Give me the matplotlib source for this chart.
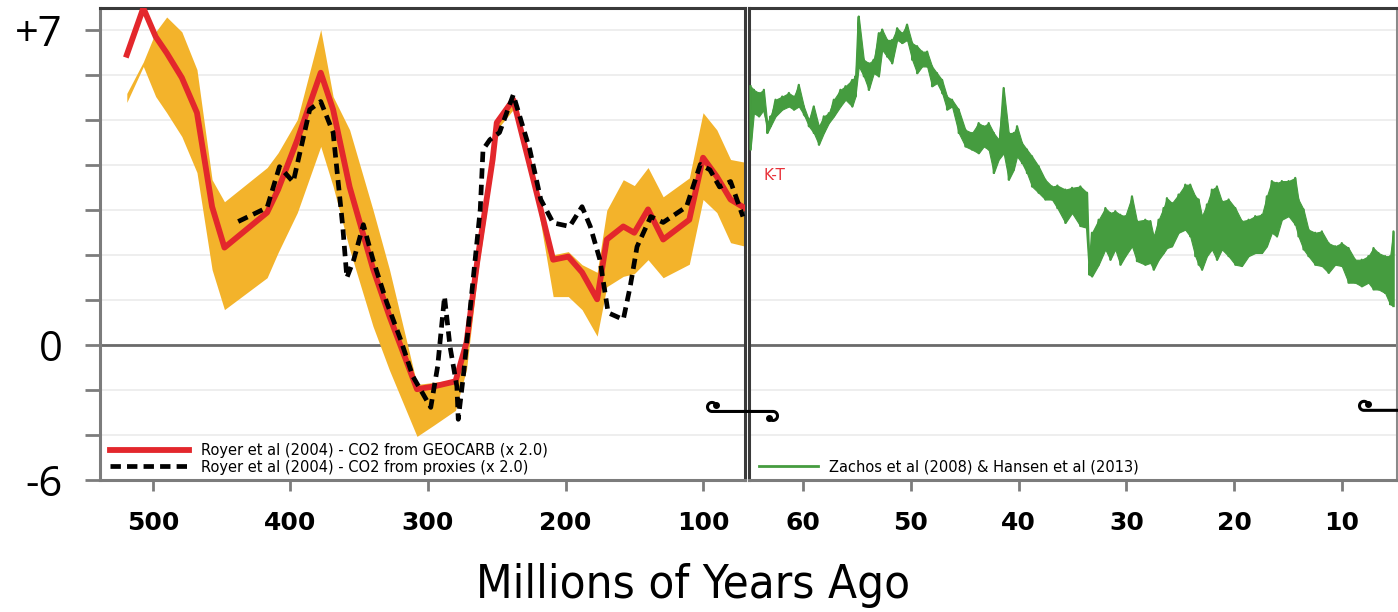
import numpy as np
import matplotlib
matplotlib.use("Agg")
import matplotlib.pyplot as plt
import matplotlib.transforms as mtransforms
from matplotlib.lines import Line2D

# Royer et al (2004), GEOCARB model (x 2.0) with its uncertainty band
red_age = [519, 507, 498, 490, 479, 468, 457, 448, 417, 409, 395, 378, 369,
           357, 340, 328, 308, 296, 280, 272, 264, 253, 250, 238, 221, 209,
           198, 188, 177, 170, 158, 150, 140, 129, 110, 100, 90, 80, 68]
red_val = [6.46, 7.50, 6.86, 6.50, 5.95, 5.17, 3.08, 2.17, 2.95, 3.46, 4.57,
           6.06, 5.24, 3.52, 1.70, 0.64, -1.96, -1.84, -1.61, 0.06, 1.90, 4.13,
           4.95, 5.46, 3.39, 1.90, 1.97, 1.62, 1.02, 2.35, 2.64, 2.50, 3.02,
           2.35, 2.79, 4.17, 3.75, 3.24, 3.02]
band_hi = [5.60, 6.30, 6.97, 7.30, 6.97, 6.13, 3.68, 3.19, 3.95, 4.28, 5.02,
           7.02, 5.53, 4.79, 3.01, 1.68, -1.75, -1.66, -1.53, 0.13, 2.00, 4.24,
           5.06, 5.57, 3.46, 2.01, 2.08, 1.79, 1.62, 3.00, 3.68, 3.55, 3.95,
           3.30, 3.72, 5.17, 4.79, 4.13, 4.06]
band_lo = [5.40, 6.20, 5.53, 5.17, 4.64, 3.84, 1.68, 0.79, 1.50, 2.06, 2.95,
           4.42, 3.53, 2.13, 0.42, -1.12, -4.06, -3.57, -2.90, -1.08, 1.57, 3.90,
           4.79, 5.24, 3.24, 1.08, 1.08, 0.79, 0.20, 1.30, 1.53, 1.59, 1.90,
           1.50, 1.80, 3.24, 2.95, 2.28, 2.19]

# Royer et al (2004), CO2 from proxies (x 2.0)
proxy_age = [438, 417, 408, 398, 386, 378, 369, 362, 359, 354, 347, 340, 330,
             320, 311, 298, 293, 288, 284, 279, 278, 274, 267, 262, 260, 255,
             248, 238, 226, 218, 209, 197, 188, 182, 175, 169, 158, 153, 148,
             138, 129, 112, 102, 95, 88, 80, 71]
proxy_val = [2.75, 3.06, 3.97, 3.63, 5.24, 5.42, 4.73, 2.64, 1.50, 1.90, 2.68,
             1.90, 0.95, 0.13, -1.39, -2.77, -0.95, 1.08, -0.06, -1.84, -3.30,
             -1.21, 1.52, 3.02, 4.35, 4.57, 4.73, 5.57, 4.35, 3.24, 2.72, 2.64,
             3.08, 2.64, 1.90, 0.72, 0.57, 1.30, 2.19, 2.86, 2.73, 3.08, 4.02,
             3.90, 3.52, 3.64, 2.86]

# Zachos et al (2008) & Hansen et al (2013): upper / lower swing of the record
green_age = [64.86, 64.55, 64.08, 63.62, 63.31, 63.00, 62.54, 61.92, 61.30, 60.84,
             60.38, 59.91, 59.45, 58.99, 58.52, 58.06, 57.60, 57.13, 56.52, 56.05,
             55.43, 55.13, 54.82, 54.35, 53.89, 53.43, 52.96, 52.65, 52.19, 51.73,
             51.26, 50.80, 50.34, 49.87, 49.41, 48.95, 48.48, 48.02, 47.56, 47.09,
             46.63, 46.17, 45.55, 44.93, 44.31, 43.70, 43.23, 42.77, 42.30, 41.84,
             41.38, 40.91, 40.45, 40.14, 39.68, 39.22, 38.75, 38.14, 37.52, 36.90,
             36.40, 35.66, 35.04, 34.27, 33.65, 33.44, 33.19, 32.57, 31.95, 31.49,
             31.03, 30.56, 30.10, 29.48, 29.02, 28.25, 27.78, 27.47, 27.01, 26.55,
             26.24, 25.77, 25.16, 24.54, 24.08, 23.61, 23.30, 22.99, 22.53, 22.07,
             21.60, 21.14, 20.52, 19.90, 19.29, 18.67, 18.05, 17.43, 16.97, 16.51,
             16.04, 15.58, 14.96, 14.34, 14.04, 13.57, 13.11, 12.49, 11.87, 11.25,
             10.64, 10.02, 9.40, 8.78, 8.17, 7.55, 7.08, 6.62, 6.00, 5.54,
             5.23]
green_hi = [5.76, 5.68, 5.61, 5.68, 4.94, 5.09, 5.46, 5.53, 5.61, 5.53,
            5.79, 5.31, 5.01, 5.31, 4.87, 5.09, 5.16, 5.46, 5.68, 5.76,
            5.90, 5.98, 7.31, 6.35, 6.27, 6.35, 6.94, 7.02, 6.79, 6.79,
            7.05, 6.94, 7.13, 6.72, 6.65, 6.53, 6.53, 6.20, 6.05, 5.90,
            5.53, 5.46, 5.24, 4.79, 4.72, 4.94, 4.87, 4.94, 4.72, 4.57,
            5.72, 4.72, 4.72, 4.87, 4.50, 4.35, 4.20, 3.98, 3.68, 3.53,
            3.55, 3.46, 3.50, 3.53, 3.39, 1.83, 2.50, 2.79, 3.05, 2.94,
            2.98, 2.90, 2.87, 3.31, 2.76, 2.79, 2.76, 2.42, 2.79, 3.05,
            3.27, 3.16, 3.35, 3.57, 3.57, 3.31, 3.24, 2.87, 3.13, 3.46,
            3.53, 3.20, 3.24, 3.05, 2.76, 2.79, 2.87, 2.90, 3.31, 3.65,
            3.61, 3.65, 3.65, 3.72, 3.24, 3.02, 2.57, 2.50, 2.53, 2.27,
            2.20, 2.27, 2.16, 1.90, 1.90, 1.98, 2.16, 2.05, 1.98, 1.98,
            2.53]
green_lo = [4.35, 5.16, 5.09, 5.24, 4.72, 4.87, 5.09, 5.24, 5.31, 5.24,
            5.31, 5.13, 4.87, 4.72, 4.46, 4.72, 4.94, 5.09, 5.31, 5.46,
            5.31, 5.53, 6.20, 5.98, 5.68, 6.05, 5.98, 6.57, 6.42, 6.27,
            6.79, 6.72, 6.79, 6.35, 6.05, 6.20, 6.20, 5.76, 5.83, 5.61,
            5.24, 5.31, 4.72, 4.42, 4.35, 4.27, 4.42, 4.35, 3.83, 4.13,
            4.27, 3.68, 3.90, 4.20, 4.05, 3.83, 3.53, 3.39, 3.24, 3.24,
            3.05, 2.72, 2.94, 2.65, 2.61, 1.57, 1.53, 1.79, 2.13, 1.90,
            2.13, 1.79, 1.98, 2.20, 1.87, 1.79, 1.83, 1.68, 1.90, 2.05,
            2.16, 2.20, 2.50, 2.57, 2.42, 1.98, 1.79, 1.68, 1.98, 2.13,
            1.90, 2.13, 1.98, 1.79, 1.76, 1.98, 2.05, 2.05, 2.20, 2.50,
            2.42, 2.79, 2.87, 2.68, 2.42, 2.13, 1.98, 1.79, 1.76, 1.61,
            1.79, 1.76, 1.39, 1.39, 1.31, 1.39, 1.24, 1.24, 1.16, 0.91,
            0.87]

left_ticks = [500, 400, 300, 200, 100]
right_ticks = [60, 50, 40, 30, 20, 10]
y_major = [-6, 0, 7]
y_major_labels = ["-6", "0", "+7"]
y_minor = [-4, -2, 1, 2, 3, 4, 5, 6]

RED = "#e3272c"
ORANGE = "#f3b32b"
GREEN = "#459c3f"
DARK = "#3a3a3a"
GREY = "#7c7c7c"


# negative side of the axis is compressed by a factor of two
def fwd(y):
    y = np.asarray(y, dtype=float)
    return np.where(y < 0, y / 2.0, y)


def inv(g):
    g = np.asarray(g, dtype=float)
    return np.where(g < 0, g * 2.0, g)


fig = plt.figure(figsize=(13.98, 6.12), dpi=100)
W, H = 1398.0, 612.0
ax1 = fig.add_axes([100 / W, 132 / H, 645 / W, 472 / H])
ax2 = fig.add_axes([749 / W, 132 / H, 648 / W, 472 / H])

for ax in (ax1, ax2):
    ax.set_yscale("function", functions=(fwd, inv))
    ax.set_ylim(-6, 7.5)
    ax.set_yticks(y_major)
    ax.set_yticks(y_minor, minor=True)
    ax.yaxis.grid(True, which="both", color="#ebebeb", lw=1.2, zorder=0)
    ax.axhline(0, color="#6a6a6a", lw=2.0, zorder=1.6)
    ax.tick_params(axis="x", length=8, width=2, color=GREY, labelsize=18,
                   pad=14)

ax1.set_xlim(538.5, 69.5)
ax2.set_xlim(65.0, 4.9)
ax1.set_xticks(left_ticks)
ax2.set_xticks(right_ticks)
for ax in (ax1, ax2):
    for lbl in ax.get_xticklabels():
        lbl.set_fontweight("bold")

ax1.set_yticklabels(y_major_labels)
ax1.tick_params(axis="y", which="both", length=11, width=2, color=GREY,
                labelsize=30, pad=16)
for lbl in ax1.get_yticklabels():
    lbl.set_family("Open Sans")
ax2.tick_params(axis="y", which="both", left=False, labelleft=False)

# frames
for ax, cols in ((ax1, {"left": GREY, "bottom": GREY, "top": DARK, "right": DARK}),
                 (ax2, {"left": DARK, "bottom": GREY, "top": DARK, "right": "#8a8a8a"})):
    for side, c in cols.items():
        ax.spines[side].set_color(c)
        ax.spines[side].set_linewidth(2.2)

# left panel: GEOCARB band, GEOCARB curve, proxy curve
ax1.fill_between(red_age, band_lo, band_hi, color=ORANGE, lw=0, zorder=2)
ax1.plot(red_age, red_val, color=RED, lw=4.2, zorder=3,
         solid_joinstyle="round",
         label="Royer et al (2004) - CO2 from GEOCARB (x 2.0)")
ax1.plot(proxy_age, proxy_val, color="black", lw=3.4, dashes=(2.2, 1.3),
         zorder=4, label="Royer et al (2004) - CO2 from proxies (x 2.0)")
ax1.legend(loc="lower left", bbox_to_anchor=(0.0, -0.01), frameon=False,
           fontsize=10.5, handlelength=5.4, handletextpad=0.8,
           labelspacing=0.12, borderaxespad=0.3)

# right panel: Cenozoic record drawn as a jagged trace
ax2.fill_between(green_age, green_lo, green_hi, color=GREEN, lw=0.8, zorder=2)
zig_x = np.repeat(green_age, 2)
zig_y = np.column_stack([green_hi, green_lo]).ravel()
ax2.plot(zig_x, zig_y, color=GREEN, lw=1.6, zorder=3)
ax2.text(63.7, 3.77, "K-T", color="#e8333b", fontsize=11, va="center",
         ha="left")
ax2.legend(handles=[Line2D([], [], color=GREEN, lw=2)],
           labels=["Zachos et al (2008) & Hansen et al (2013)"],
           loc="lower left", bbox_to_anchor=(0.0, -0.01), frameon=False,
           fontsize=10.5, handlelength=4.0, handletextpad=0.8,
           borderaxespad=0.3)


# axis-break symbol (lying integral sign), sizes in inches, drawn on the
# figure so that it sits on top of both panels
def break_mark(ax, y):
    r = 0.045
    a = np.radians(np.linspace(30, 270, 30))
    left = np.column_stack([-0.33 + r * np.cos(a), r + r * np.sin(a)])
    b = np.radians(np.linspace(90, -150, 30))
    right = np.column_stack([0.28 + r * np.cos(b), -r + r * np.sin(b)])
    pts = np.vstack([left, right])
    trans = fig.dpi_scale_trans + mtransforms.ScaledTranslation(
        1.0, y, ax.get_yaxis_transform())
    fig.add_artist(Line2D(pts[:, 0], pts[:, 1], color="black", lw=2.2,
                          transform=trans, zorder=6, solid_capstyle="round"))
    fig.add_artist(Line2D(pts[[0, -1], 0], pts[[0, -1], 1], ls="none",
                          marker="o", color="black", ms=4, transform=trans,
                          zorder=6))


break_mark(ax1, -2.95)
break_mark(ax2, -2.9)

fig.text(693 / W, 1 - 585 / H, "Millions of Years Ago", ha="center",
         va="center", fontsize=34, family="DejaVu Sans", fontstretch="condensed")

fig.savefig("out.png", dpi=100)
